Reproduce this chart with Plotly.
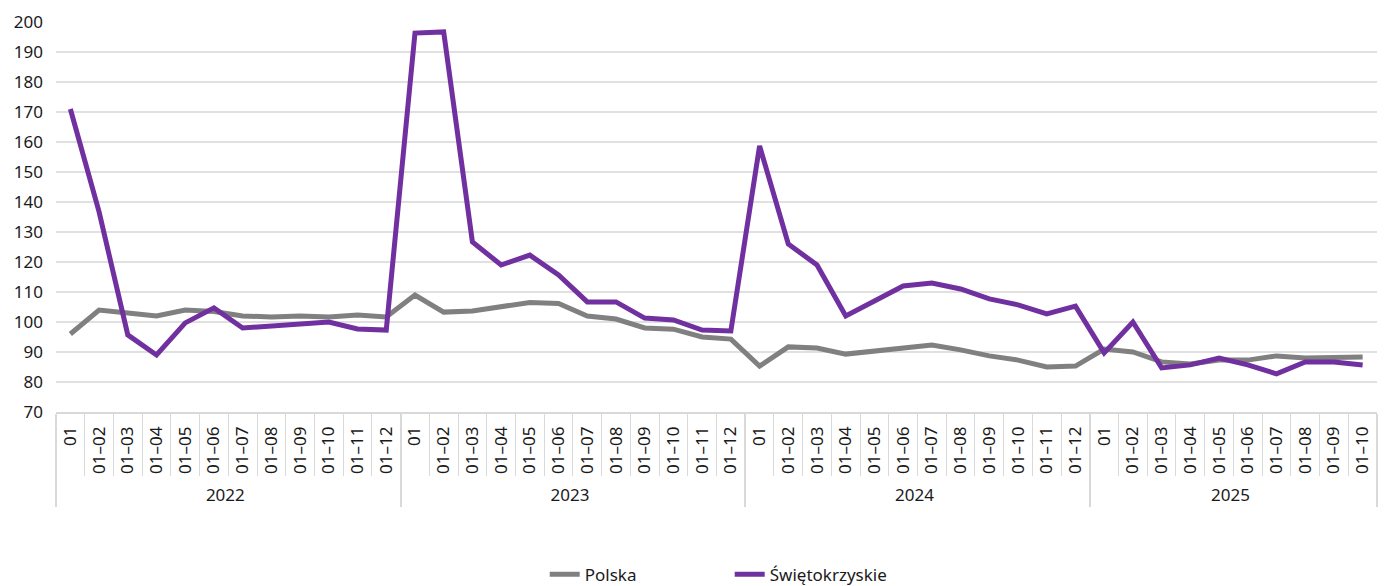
import plotly.graph_objects as go

years = ["2022"] * 12 + ["2023"] * 12 + ["2024"] * 12 + ["2025"] * 10
months_full = ["01", "01–02", "01–03", "01–04", "01–05", "01–06",
               "01–07", "01–08", "01–09", "01–10", "01–11", "01–12"]
months = months_full * 3 + months_full[:10]

polska = [96, 104, 103, 102, 104, 103.5, 102, 101.7, 102, 101.7, 102.3, 101.7,
          109, 103.3, 103.7, 105, 106.5, 106.2, 102, 101, 98, 97.6, 95, 94.3,
          85.3, 91.7, 91.3, 89.3, 90.3, 91, 92.3, 90.7, 88.7, 87.3, 85, 85.3,
          91, 90, 86.7, 86, 87.3, 87.3, 88.7, 88, 88, 88.3]
swietokrzyskie = [171, 136.7, 95.7, 89, 99.7, 104.7, 98, 98.7, 99, 100, 97.7, 97.3,
                  196.3, 196.7, 126.7, 119, 122.3, 115.7, 106.7, 106.7, 101.3, 100.7, 97.3, 97,
                  158.7, 126, 119, 102, 107, 112, 113, 111, 107.7, 105.7, 102.7, 105.3,
                  89.7, 100, 84.7, 85.7, 88, 85.7, 82.7, 86.7, 86.7, 85.7]

fig = go.Figure()
fig.add_trace(go.Scatter(x=[years, months], y=polska, name="Polska", mode="lines",
                         line=dict(color="#808080", width=5)))
fig.add_trace(go.Scatter(x=[years, months], y=swietokrzyskie, name="Świętokrzyskie",
                         mode="lines", line=dict(color="#7030A0", width=5)))

# the page adds an 8px body margin, so the margins are shifted to compensate
fig.update_layout(
    width=1387, height=586,
    margin=dict(l=48, r=18, t=14, b=182),
    plot_bgcolor="white", paper_bgcolor="white",
    font=dict(family="Noto Sans", size=17, color="#1a1a1a"),
    showlegend=True,
    legend=dict(orientation="h", x=0.51, xanchor="center",
                yref="container", y=0.033, yanchor="middle",
                font=dict(size=17), entrywidth=140),
)
fig.update_yaxes(range=[70, 200], dtick=10, showgrid=True, gridcolor="#e0e0e0",
                 gridwidth=1.5, zeroline=False, showline=False, ticks="",
                 ticklabelstandoff=12,
                 tickfont=dict(size=17), automargin=False)
fig.update_xaxes(type="multicategory", tickangle=-90, showgrid=False,
                 range=[-0.5, 45.5], automargin=False,
                 showline=True, linecolor="#d9d9d9", linewidth=1.5,
                 ticks="outside", tickcolor="#d9d9d9", ticklen=62,
                 ticklabelstandoff=6,
                 showdividers=True, dividercolor="#d9d9d9", dividerwidth=1.5,
                 tickfont=dict(size=17))

fig.write_html("out.html")
